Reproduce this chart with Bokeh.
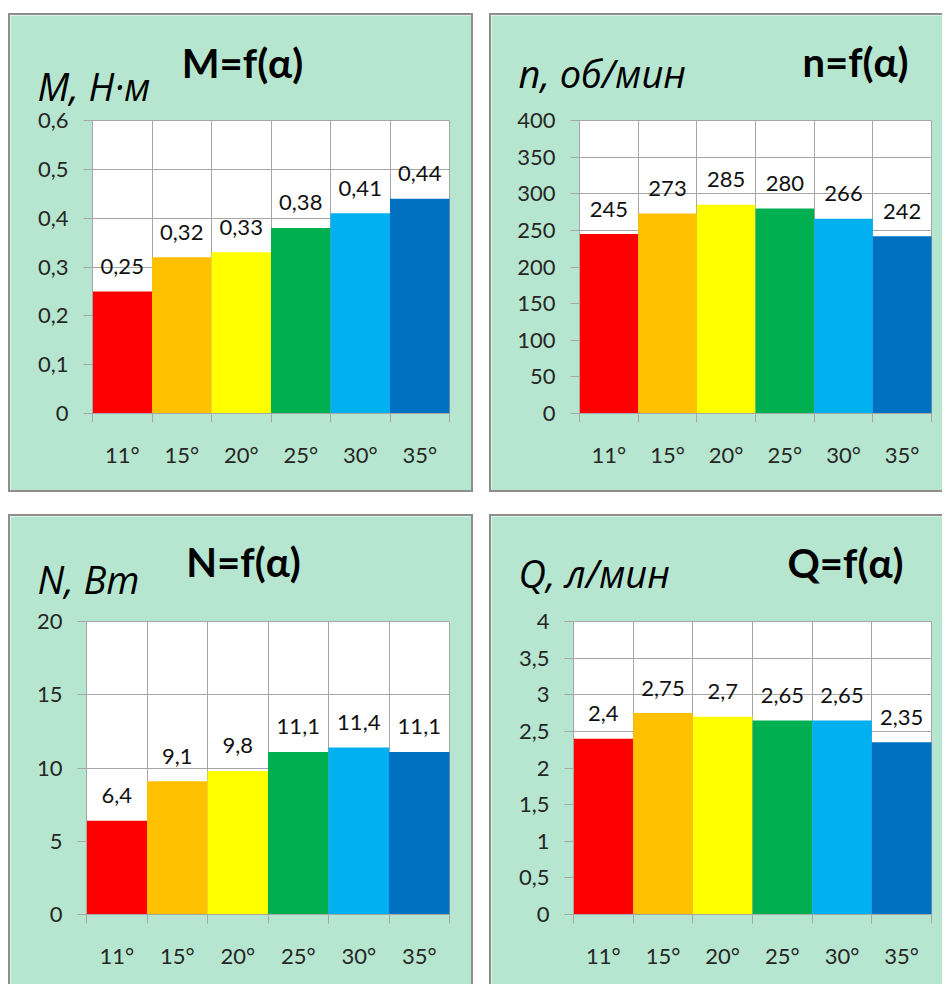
from bokeh.plotting import figure
from bokeh.layouts import column, row
from bokeh.core.properties import value
from bokeh.models import (ColumnDataSource, CustomJSTickFormatter, FixedTicker,
                          Label, Range1d)
from bokeh.embed import file_html
from bokeh.resources import INLINE

# Blade angle categories shared by all four charts
angles = ["11°", "15°", "20°", "25°", "30°", "35°"]
bar_colors = ["#FF0000", "#FFC000", "#FFFF00", "#00B050", "#00B0F0", "#0070C0"]

# Measured quantities per blade angle
torque = [0.25, 0.32, 0.33, 0.38, 0.41, 0.44]      # M, N·m
speed = [245, 273, 285, 280, 266, 242]             # n, rpm
power = [6.4, 9.1, 9.8, 11.1, 11.4, 11.1]          # N, W
flow = [2.4, 2.75, 2.7, 2.65, 2.65, 2.35]          # Q, l/min

torque_ticks = [0, 0.1, 0.2, 0.3, 0.4, 0.5, 0.6]
speed_ticks = [0, 50, 100, 150, 200, 250, 300, 350, 400]
power_ticks = [0, 5, 10, 15, 20]
flow_ticks = [0, 0.5, 1, 1.5, 2, 2.5, 3, 3.5, 4]

PANEL_BG = "#b6e6cf"
GRID = "#a6a6a6"
EDGE = "#8e8e8e"
FONT = "Lato"
UNIT_FONT = "Open Sans"

# plot area (white box) inside each canvas, in pixels from the canvas top
AREA_TOP = 105
AREA_BOTTOM = 398


def comma(v):
    return f"{v:g}".replace(".", ",")


def make_panel(values, yticks, formula, quantity, canvas_w, canvas_h,
               area_left, area_right, formula_dx, formula_rise,
               quantity_dx, quantity_rise, border, margin):
    n = len(angles)
    ymax = yticks[-1]
    centers = [i + 0.5 for i in range(n)]
    edges = list(range(n + 1))
    src = ColumnDataSource(dict(x=centers, top=values, color=bar_colors,
                                label=[comma(v) for v in values]))

    # ranges chosen so the data box [0, n] x [0, ymax] lands on the plot area,
    # leaving room inside the frame for headings and axis labels
    kx = (area_right - area_left) / n
    ky = (AREA_BOTTOM - AREA_TOP) / ymax
    x_range = Range1d(-area_left / kx, n + (canvas_w - area_right) / kx)
    y_range = Range1d(-(canvas_h - AREA_BOTTOM) / ky, ymax + AREA_TOP / ky)

    p = figure(width=canvas_w, height=canvas_h, x_range=x_range, y_range=y_range,
               output_backend="svg", toolbar_location=None, tools="", title=None,
               min_border=0, min_border_left=0, min_border_right=0,
               min_border_top=0, min_border_bottom=0,
               background_fill_color=PANEL_BG, border_fill_color=PANEL_BG,
               outline_line_color=None, margin=margin, styles=border)

    # white plot area behind grid and bars
    p.quad(left=[0], right=[n], bottom=[0], top=[ymax], fill_color="white",
           line_color=None, level="image")

    p.vbar(x="x", top="top", width=1.0, bottom=0, fill_color="color",
           line_color=None, source=src)
    p.text(x="x", y="top", text="label", source=src, text_align="center",
           text_baseline="alphabetic", y_offset=-25,
           text_font=value(FONT), text_font_size="22px", text_color="#111111")

    # horizontal axis: labels in the middle of each bar, ticks at bar edges
    xa = p.xaxis[0]
    xa.fixed_location = 0
    xa.bounds = (0, n)
    xa.ticker = FixedTicker(ticks=centers, minor_ticks=edges)
    xa.formatter = CustomJSTickFormatter(args=dict(labels=angles),
                                         code="return labels[Math.floor(tick)]")
    xa.major_tick_out = 0
    xa.major_tick_in = 0
    xa.minor_tick_out = 9
    xa.minor_tick_in = 0
    xa.minor_tick_line_color = GRID
    xa.axis_line_color = GRID
    xa.major_label_standoff = 18
    xa.major_label_text_font = FONT
    xa.major_label_text_font_size = "22px"
    xa.major_label_text_color = "#262626"

    ya = p.yaxis[0]
    ya.fixed_location = 0
    ya.bounds = (0, ymax)
    ya.ticker = FixedTicker(ticks=yticks, minor_ticks=[])
    ya.formatter = CustomJSTickFormatter(
        code="return (Math.round(tick * 1000) / 1000).toString().replace('.', ',')")
    ya.major_tick_out = 9
    ya.major_tick_in = 0
    ya.major_tick_line_color = GRID
    ya.axis_line_color = GRID
    ya.major_label_standoff = 15
    ya.major_label_text_font = FONT
    ya.major_label_text_font_size = "22px"
    ya.major_label_text_color = "#262626"

    xg = p.xgrid[0]
    xg.ticker = FixedTicker(ticks=edges, minor_ticks=[])
    xg.grid_line_color = GRID
    xg.cross_bounds = (0, ymax)
    yg = p.ygrid[0]
    yg.ticker = FixedTicker(ticks=yticks, minor_ticks=[])
    yg.grid_line_color = GRID
    yg.cross_bounds = (0, n)

    p.add_layout(Label(x=0, y=ymax, x_offset=formula_dx, y_offset=formula_rise,
                       text=formula, text_align="center", text_baseline="alphabetic",
                       text_font=FONT, text_font_style="bold",
                       text_font_size="40px", text_color="#000000"))
    p.add_layout(Label(x=0, y=ymax, x_offset=quantity_dx, y_offset=quantity_rise,
                       text=quantity, text_align="left", text_baseline="alphabetic",
                       text_font=UNIT_FONT, text_font_style="italic",
                       text_font_size="38px", text_color="#000000"))
    return p


def edge_css(sides):
    return {f"border-{s}": f"2px solid {EDGE}" for s in sides}


p_m = make_panel(torque, torque_ticks, "M=f(α)", "M, Н·м", 465, 479, 82, 439,
                 150, 58, -55, 35, edge_css(["top", "left", "right", "bottom"]),
                 (13, 0, 0, 8))
p_n = make_panel(speed, speed_ticks, "n=f(α)", "n, об/мин", 453, 479, 88, 440,
                 276, 59, -61, 48, edge_css(["top", "left", "bottom"]),
                 (13, 0, 0, 16))
p_p = make_panel(power, power_ticks, "N=f(α)", "N, Вт", 465, 470, 76, 439,
                 157, 60, -49, 43, edge_css(["top", "left", "right"]),
                 (22, 0, 0, 8))
p_q = make_panel(flow, flow_ticks, "Q=f(α)", "Q, л/мин", 453, 470, 82, 440,
                 272, 59, -55, 49, edge_css(["top", "left"]),
                 (22, 0, 0, 16))

layout = column(row(p_m, p_n), row(p_p, p_q))

open("out.html", "w").write(file_html(layout, INLINE))
